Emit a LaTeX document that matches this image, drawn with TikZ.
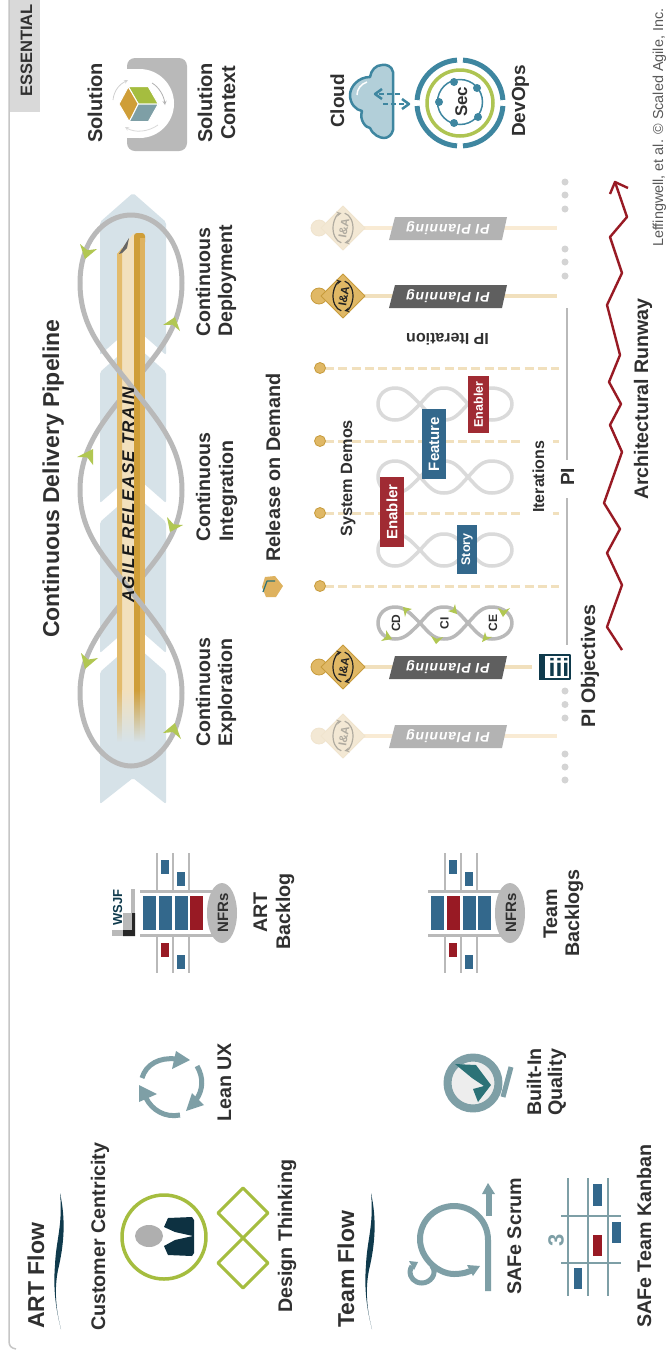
\documentclass[tikz,border=0pt]{standalone}
\usepackage{fontspec}
\setmainfont{Liberation Sans}
\usetikzlibrary{calc}
\definecolor{txt}{HTML}{303030}
\definecolor{navy}{HTML}{0F3A4C}
\definecolor{teal}{HTML}{7E9FA6}
\definecolor{dteal}{HTML}{2C7277}
\definecolor{lime}{HTML}{A5BD3F}
\definecolor{hgreen}{HTML}{B1C752}
\definecolor{sblue}{HTML}{33688C}
\definecolor{sred}{HTML}{A02B33}
\definecolor{dred}{HTML}{981A24}
\definecolor{loopg}{HTML}{B9B9B9}
\definecolor{loopl}{HTML}{DADADA}
\definecolor{band}{HTML}{D6E2E8}
\definecolor{gold}{HTML}{E3BB6C}
\definecolor{cream}{HTML}{F2E0BD}
\definecolor{dgold}{HTML}{CF9E38}
\definecolor{mgold}{HTML}{DEB25F}
\definecolor{cloudb}{HTML}{3E86A0}
\definecolor{aline}{HTML}{F1E0BD}
\definecolor{fline}{HTML}{F9EBD4}
\definecolor{acirc}{HTML}{E0B865}
\definecolor{fcirc}{HTML}{F3E8D4}
\definecolor{adraw}{HTML}{C79B3C}
\definecolor{fdraw}{HTML}{F0E4CE}
\definecolor{aicon}{HTML}{222222}
\definecolor{ficon}{HTML}{B0ABA0}
\definecolor{abar}{HTML}{5F5F5F}
\definecolor{fbar}{HTML}{B3B3B3}
\tikzset{
  lbl/.style={rotate=90,anchor=base west,inner sep=0pt,text=txt},
  cardtxt/.style={rotate=90,inner sep=0pt,text=white},
  loopstroke/.style={line width=3.5pt},
  bigloop/.style={draw=loopg,line width=5pt},
}
\newcommand{\lab}[5]{\node[lbl,font=\bfseries\fontsize{#4}{#4}\selectfont] (#1) at (#2,#3) {#5};}
% green arrow head: tip, barb, barb
\newcommand{\gh}[3]{\fill[hgreen] (#1) -- (#2) -- ($($(#2)!.5!(#3)$)!.3!(#1)$) -- (#3) -- cycle;}
\newcommand{\lobes}[3]{\begin{scope}[shift={(0,#1)}]
  \draw[#2,line width=#3] (420,0) .. controls (410,-10) and (405,-16) .. (395,-16) .. controls (385,-16) and (378,-9) .. (378,0) .. controls (378,9) and (385,16) .. (395,16) .. controls (405,16) and (410,10) .. (420,0)
  .. controls (430,-11) and (434,-16) .. (444,-16) .. controls (454,-16) and (458,-11) .. (468,0)
  .. controls (478,11) and (482,16) .. (492,16) .. controls (503,16) and (512,9) .. (512,0) .. controls (512,-9) and (503,-16) .. (492,-16) .. controls (482,-16) and (478,-11) .. (468,0)
  .. controls (458,11) and (454,16) .. (444,16) .. controls (434,16) and (430,11) .. (420,0);
\end{scope}}
\newcommand{\pipe}[4]{% name, y, xend, prefix a/f
  \draw[#4line,line width=4pt] (319,#2) -- (#3,#2);
  \fill[#4circ,draw=#4draw,line width=.8pt] (319,#2) circle[radius=8];
  \fill[#4circ,draw=#4draw,line width=1pt] (321,#2) -- (343,#2-22) -- (365,#2) -- (343,#2+22) -- cycle;
  \draw[#4icon,line width=1.2pt,-stealth] (343,#2) ++(100:10 and 15) arc[start angle=100,end angle=262,x radius=10,y radius=15];
  \draw[#4icon,line width=1.2pt,-stealth] (343,#2) ++(280:10 and 15) arc[start angle=280,end angle=442,x radius=10,y radius=15];
  \node[rotate=80,inner sep=0pt,text=#4icon,font=\bfseries\fontsize{11.5}{11.5}\selectfont] (#1i) at (344,#2) {I\&A};
  \fill[#4bar] (395,#2-11) -- (507,#2-11) -- (502,#2+12) -- (389,#2+12) -- cycle;
  \node[rotate=180,inner sep=0pt,text=white,font=\itshape\bfseries\fontsize{14}{14}\selectfont\addfontfeatures{LetterSpace=6}] (#1t) at (448,#2) {PI Planning};
}
\newcommand{\blog}[6]{% name, dx, colours of the four bars
  \begin{scope}[shift={(#2,0)}]
  \draw[loopg,line width=2.6pt] (157,853) -- (157,891) (173,853) -- (173,891) (189,853) -- (189,891)
     (157,935) -- (157,973) (173,935) -- (173,973) (189,935) -- (189,973);
  \draw[loopg,line width=3pt] (140,891) -- (217,891) (140,935) -- (217,935);
  \fill[#3] (143,896) rectangle (156,930);
  \fill[#4] (159,896) rectangle (172,930);
  \fill[#5] (175,896) rectangle (188,930);
  \fill[#6] (190,896) rectangle (203,930);
  \fill[sblue] (161,860) rectangle (169,874);
  \fill[sblue] (177,872) rectangle (185,886);
  \fill[dred] (161,943) rectangle (169,957);
  \fill[sblue] (177,955) rectangle (185,969);
  \fill[loopg] (222,913) ellipse[x radius=15,y radius=30];
  \node[rotate=90,anchor=base,inner sep=0pt,text=txt,font=\bfseries\fontsize{15}{15}\selectfont] (#1) at (228,913) {NFRs};
  \end{scope}
}
\newcommand{\swoosh}[1]{\fill[navy,shift={(#1,0)}] (60,1193) .. controls (66,1220) and (64,1245) .. (58,1270) .. controls (54,1290) and (56,1310) .. (61,1329) .. controls (56,1310) and (53,1290) .. (55,1265) .. controls (56,1240) and (63,1225) .. (60,1193) -- cycle;}
\newcommand{\scard}[5]{\fill[#1] (#2,#3) rectangle (#4,#5);}
\begin{document}
\begin{tikzpicture}[x=1pt,y=-1pt,line join=round]
\useasboundingbox (0,0) rectangle (668,1350);
\fill[white] (0,0) rectangle (668,1350);
% frame
\draw[gray!45,line width=1.5pt] (9,0) -- (9,1341) .. controls (9,1346) and (11,1348) .. (16,1349);
\fill[gray!30] (10,0) rectangle (40,112);
\node[lbl,font=\fontsize{16.5}{16.5}\selectfont\bfseries] (ess) at (32,97) {ESSENTIAL};
% ===== left column
\lab{artflow}{44}{1329}{23}{ART Flow}
\swoosh{0}
\lab{cust}{105}{1331}{19.7}{Customer Centricity}
\draw[lime,line width=3.5pt] (164,1237) circle[radius=42];
\fill[gray!95!black!60] (149,1236) ellipse[x radius=14,y radius=11];
\fill[navy!85!black] (164,1227) -- (168,1218) -- (192,1217) -- (194,1220) -- (194,1253) -- (192,1256) -- (168,1255) -- (164,1246) -- (175,1240) -- (193,1236) -- (175,1232) -- cycle;
\draw[lime,line width=3pt] (218,1213) -- (243,1188) -- (268,1213) -- (243,1238) -- cycle;
\draw[lime,line width=3pt] (218,1263) -- (243,1238) -- (268,1263) -- (243,1288) -- cycle;
\lab{dt}{292}{1313}{19.7}{Design Thinking}
% Lean UX
\begin{scope}[teal,line width=5pt]
\draw (142,1078) .. controls (146,1064) and (160,1057) .. (176,1059);
\draw (197,1066) .. controls (204,1078) and (203,1090) .. (196,1100);
\draw (180,1115) .. controls (165,1118) and (152,1110) .. (146,1098);
\end{scope}
\fill[teal] (190,1060) -- (176,1051) -- (172,1069) -- cycle;
\fill[teal] (186,1111) -- (204,1105) -- (192,1093) -- cycle;
\fill[teal] (139,1085) -- (157,1094) -- (139,1102) -- cycle;
\lab{lean}{231}{1122}{19.7}{Lean UX}
% Team flow
\lab{teamflow}{354}{1328}{23}{Team Flow}
\swoosh{311}
% Scrum
\draw[teal,line width=6pt] (488,1291) -- (488,1240) .. controls (488,1221) and (473,1206) .. (454,1206) .. controls (435,1206) and (420,1221) .. (420,1239) .. controls (420,1258) and (438,1274) .. (454,1274) .. controls (462,1274) and (470,1272) .. (474,1269);
\fill[teal] (480,1266) -- (467,1265) -- (473,1276) -- cycle;
\draw[teal,line width=5pt] (432,1266) .. controls (438,1274) and (430,1283) .. (422,1283) .. controls (414,1283) and (410,1277) .. (410,1272) .. controls (410,1269) and (411,1268) .. (412,1266);
\fill[teal] (409,1261) -- (418,1262) -- (414,1270) -- cycle;
\draw[teal,line width=6.5pt] (489,1216) -- (489,1192);
\fill[teal] (488,1183) -- (482,1194) -- (495,1194) -- cycle;
\lab{scrum}{521}{1295}{19.7}{SAFe Scrum}
% Kanban
\draw[teal,line width=2.5pt] (568,1178) -- (568,1296) (588,1178) -- (588,1296) (608,1178) -- (608,1296) (561,1216) -- (621,1216) (561,1263) -- (621,1263);
\scard{sblue}{593}{1184}{602}{1206}
\scard{sblue}{612}{1222}{621}{1243}
\scard{dred}{593}{1235}{602}{1256}
\scard{sblue}{574}{1268}{582}{1289}
\node[rotate=90,inner sep=0pt,text=teal,font=\bfseries\fontsize{22}{22}\selectfont] (three) at (556,1240) {3};
\lab{kanban}{651}{1328}{19.7}{SAFe Team Kanban}
% Built-in quality
\fill[black!7,draw=teal,line width=8pt] (473,1083) circle[radius=25.5];
\draw[teal,line width=5pt] (511,1067) -- (503,1097);
\fill[dteal] (455,1064) -- (476,1065) -- (491,1085) -- (478,1102) -- (473,1089) -- (484,1086) -- (472,1078) -- cycle;
\lab{bi1}{541}{1116}{19.7}{Built-In}
\lab{bi2}{562}{1116}{19.7}{Quality}
% backlogs
\blog{nfra}{0}{sblue}{sblue}{sblue}{dred}
\node[rotate=90,anchor=base west,inner sep=0pt,text=navy,font=\bfseries\fontsize{13}{13}\selectfont] (wsjf) at (122,926) {WSJF};
\fill[loopg] (131,889) rectangle (135,930);
\fill[loopg] (112,930) rectangle (123,936);
\fill[loopg] (123,913) rectangle (132,930);
\fill[black!85] (132,913) rectangle (135,936) (123,930) rectangle (135,936);
\lab{artl}{267}{933}{19.7}{ART}
\lab{backlog}{290}{950}{19.7}{Backlog}
\blog{nfrt}{288}{sblue}{dred}{sblue}{sblue}
\lab{team}{557}{939}{19.7}{Team}
\lab{backlogs}{579}{957}{19.7}{Backlogs}
% ===== pipeline
\lab{cdp}{59}{638}{23}{Continuous Delivery Pipeline}
\fill[band,rounded corners=2pt] (133,193) -- (166,222) -- (166,355) -- (133,326) -- (100,355) -- (100,222) -- cycle;
\fill[band,rounded corners=2pt] (133,343) -- (166,372) -- (166,503) -- (133,474) -- (100,503) -- (100,372) -- cycle;
\fill[band,rounded corners=2pt] (133,493) -- (166,522) -- (166,653) -- (133,624) -- (100,653) -- (100,522) -- cycle;
\fill[band,rounded corners=2pt] (133,643) -- (166,672) -- (166,804) -- (133,778) -- (100,804) -- (100,672) -- cycle;
% loops (under the train)
\draw[bigloop] (80,283) .. controls (80,240) and (105,215) .. (131,215) .. controls (157,215) and (182,240) .. (182,283)
  .. controls (182,330) and (155,355) .. (131,386) .. controls (107,417) and (80,445) .. (80,490);
\draw[bigloop] (182,490) .. controls (182,535) and (155,560) .. (131,591) .. controls (107,622) and (80,650) .. (80,693)
  .. controls (80,735) and (105,766) .. (131,766) .. controls (157,766) and (182,735) .. (182,693);
% train
\fill[cream] (122,248) -- (134,233) -- (134,690) -- (122,690) -- cycle;
\fill[gold] (117,254) -- (122,248) -- (122,690) -- (117,690) -- cycle;
\fill[dgold,rounded corners=3pt] (134,233) -- (145,233) -- (145,245) -- (134,245) -- cycle;
\fill[dgold] (134,237) rectangle (140,690);
\fill[mgold] (140,238) rectangle (145,690);
\shade[top color=gold,bottom color=band] (117,690) rectangle (122,742);
\shade[top color=cream,bottom color=band] (122,690) rectangle (134,742);
\shade[top color=dgold,bottom color=band] (134,690) rectangle (140,742);
\shade[top color=mgold,bottom color=band] (140,690) rectangle (145,742);
\fill[black!60] (119,254) -- (129,238) -- (127,248) -- (122,253) -- cycle;
% loops (over the train)
\draw[bigloop] (80,283) .. controls (80,330) and (107,355) .. (131,386) .. controls (155,417) and (182,445) .. (182,490);
\draw[bigloop] (80,490) .. controls (80,535) and (107,560) .. (131,591) .. controls (155,622) and (182,650) .. (182,693);
\gh{85,259}{80,244}{97,249}
\gh{175,317}{163,325}{180,331}
\gh{93,449}{77,457}{93,465}
\gh{170,532}{167,517}{183,525}
\gh{85,669}{81,653}{98,658}
\gh{175,723}{163,733}{181,739}
\node[rotate=90,anchor=base west,inner sep=0pt,text=black!90,font=\itshape\bfseries\fontsize{17}{17}\selectfont\addfontfeatures{LetterSpace=8}] (art) at (134,603) {AGILE RELEASE TRAIN};
\lab{ce1}{210}{747}{19.6}{Continuous}
\lab{ce2}{232}{747}{19.6}{Exploration}
\lab{ci1}{210}{542}{19.6}{Continuous}
\lab{ci2}{233}{542}{19.6}{Integration}
\lab{cdd1}{210}{337}{19.6}{Continuous}
\lab{cdd2}{232}{337}{19.6}{Deployment}
% release on demand
\fill[mgold] (283,586) -- (275,576) -- (265,577) -- (262,587) -- (266,597) -- (276,597) -- cycle;
\draw[dteal,line width=1.2pt] (263,592) -- (267,581) -- (275,581);
\lab{rod}{280}{562}{19.8}{Release on Demand}
% ===== PI
\pipe{p1}{736}{557}{f}
\pipe{p2}{667}{532}{a}
\pipe{p3}{228}{557}{f}
\pipe{p4}{296}{557}{a}
% iterations
\foreach \yy in {368,586} {\draw[aline,line width=3pt,dash pattern=on 9pt off 4.3pt] (325,\yy) -- (559,\yy);}
\foreach \yy in {441,513} {\draw[aline,line width=3pt,dash pattern=on 9pt off 4.3pt] (325,\yy) -- (522,\yy);\draw[aline,line width=3pt] (553,\yy) -- (559,\yy);}
\foreach \yy in {368,441,513,586} {\fill[acirc,draw=adraw,line width=.8pt] (320,\yy) circle[radius=5.5];}
\lab{sysd}{352}{537}{16.3}{System Demos}
\lab{iters}{544}{513}{16}{Iterations}
\node[rotate=180,anchor=base east,inner sep=0pt,text=txt,font=\bfseries\fontsize{16}{16}\selectfont] (ipi) at (406,333) {IP Iteration};
% small loops
\lobes{623}{loopg}{3.5pt}
\lobes{550}{loopl}{3.5pt}
\lobes{477}{loopl}{3.5pt}
\lobes{404}{loopl}{3.5pt}
\gh{392,639}{381,641}{386,630}
\gh{403,607}{412,609}{405,617}
\gh{457,614}{455,604}{448,611}
\gh{436,644}{431,636}{443,637}
\gh{482,642}{485,632}{492,637}
\gh{503,617}{498,608}{510,608}
\node[rotate=90,text=txt,inner sep=0pt,font=\bfseries\fontsize{12}{12}\selectfont] (cd) at (396,623) {CD};
\node[rotate=90,text=txt,inner sep=0pt,font=\bfseries\fontsize{12}{12}\selectfont] (ci) at (444.5,623) {CI};
\node[rotate=90,text=txt,inner sep=0pt,font=\bfseries\fontsize{12}{12}\selectfont] (ce) at (493,623) {CE};
% cards
\fill[sblue] (457,525) rectangle (477,574);
\node[cardtxt,font=\bfseries\fontsize{12.5}{12.5}\selectfont] (story) at (467,549.5) {Story};
\fill[sred] (380,477) rectangle (404,547);
\node[cardtxt,font=\bfseries\fontsize{15}{15}\selectfont] (en1) at (392,512) {Enabler};
\fill[sblue] (422,409) rectangle (446,479);
\node[cardtxt,font=\bfseries\fontsize{15}{15}\selectfont] (feat) at (434,444) {Feature};
\fill[sred] (468,376) rectangle (489,433);
\node[cardtxt,font=\bfseries\fontsize{12.5}{12.5}\selectfont] (en2) at (478.5,404.5) {Enabler};
% iii
\fill[white,draw=navy,line width=1.6pt] (540,655) rectangle (570,679);
\fill[navy] (539,654) rectangle (545,680);
\node[inner sep=0pt,text=navy,font=\bfseries\fontsize{25}{25}\selectfont] (iii) at (559,667) {iii};
% dots
\foreach \yy in {691,704.5,718,754,767,780,182,195,209,249,262,276} {\fill[black!17] (565,\yy) circle[radius=3.5];}
% PI line
\draw[loopg,line width=1.8pt] (567,308) -- (567,460) (567,498) -- (567,645);
\lab{pi}{574}{486}{19}{PI}
\lab{piobj}{595}{728}{19.6}{PI Objectives}
% runway
\draw[dred,line width=2.4pt] (622,650) -- (607,627) -- (622,585) -- (607,553) -- (620,529) -- (604,503) -- (622,452) -- (610,425) -- (621,404) -- (609,382) -- (620,355) -- (607,305) -- (622,273) -- (610,237) -- (627,217) -- (615,182);
\draw[dred,line width=2.4pt] (610,194) -- (615,182) -- (628,188);
\lab{runway}{648}{500}{19.6}{Architectural Runway}
% ===== right column
\lab{sol}{102}{143}{20}{Solution}
\fill[loopg,rounded corners=8pt] (127,58) rectangle (187,151);
\fill[white] (139.5,103.5) circle[radius=34.5];
\fill[white] (120,69) rectangle (139.5,138);
\begin{scope}[white,line width=1pt]
\filldraw[fill=lime] (128.3,86.7) -- (148.3,86.7) -- (158.3,104) -- (138.3,104) -- cycle;
\filldraw[fill=dgold] (128.3,86.7) -- (138.3,104) -- (129.3,121.7) -- (119,104) -- cycle;
\filldraw[fill=teal] (138.3,104) -- (158.3,104) -- (148.3,121.7) -- (129.3,121.7) -- cycle;
\end{scope}
\draw[black!18,line width=.8pt,-stealth] (113,100) .. controls (114,90) and (120,84) .. (128,80);
\draw[black!30,line width=.8pt,-stealth] (152,83) .. controls (159,87) and (164,96) .. (165,105);
\draw[black!15,line width=.8pt,-stealth] (158,125) .. controls (148,132) and (135,133) .. (125,127);
\lab{solc1}{212}{143}{20}{Solution}
\lab{solc2}{235}{140}{20}{Context}
\lab{cloud}{344}{128}{19}{Cloud}
\fill[cloudb!40,draw=cloudb,line width=2.5pt] (393,72) .. controls (392,66) and (386,64) .. (382,65) .. controls (376,65) and (371,70) .. (370,77) .. controls (358,77) and (350,87) .. (350,95) .. controls (350,104) and (356,110) .. (362,111) .. controls (359,120) and (366,128) .. (370,128) .. controls (373,135) and (380,138) .. (384,138) .. controls (388,138) and (392,135) .. (393,130) -- cycle;
\draw[white,line width=1.5pt] (357,95) .. controls (357,89) and (361,84) .. (367,82);
\draw[cloudb,line width=2.5pt,dash pattern=on 5pt off 3pt] (400,94) -- (377,94);
\draw[cloudb,line width=2.5pt] (382,89) -- (375,94) -- (382,99);
\draw[cloudb,line width=2.5pt,dash pattern=on 5pt off 3pt] (383,104) -- (407,104);
\draw[cloudb,line width=2.5pt] (402,99) -- (409,104) -- (402,109);
% DevOps rings
\foreach \aa in {0,90,180,270} {\draw[cloudb,line width=5pt] (460,103) ++(\aa+4:43) arc[start angle=\aa+4,end angle=\aa+86,radius=43];}
\draw[lime!90!white,line width=3.5pt] (460,103) circle[radius=33];
\draw[cloudb,line width=1.5pt] (460,102) circle[radius=22.5];
\foreach \px/\py in {454/82,477/88,478/117,454/123,439/102} {\fill[cloudb] (\px,\py) circle[radius=4];}
\lab{sec}{467}{117}{16.9}{Sec}
\lab{devops}{525}{137}{19}{DevOps}
\node[lbl,text=black!65,font=\fontsize{14.4}{14.4}\selectfont] (credit) at (663,247) {Leffingwell, et al. © Scaled Agile, Inc.};
\end{tikzpicture}
\end{document}
